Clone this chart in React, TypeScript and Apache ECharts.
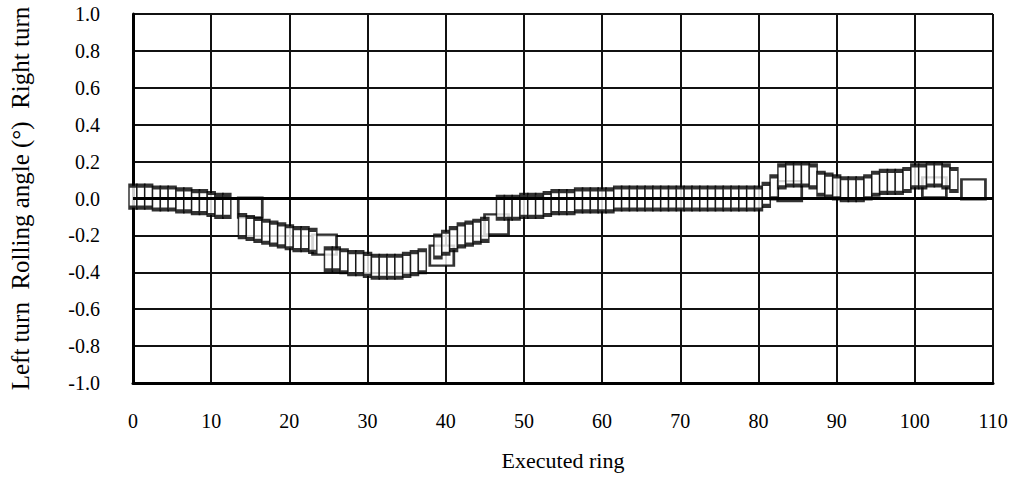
import React, { useEffect, useRef } from "react";
import * as echarts from "echarts";

const rings: number[] = [
  0, 1, 2, 3, 4, 5, 6, 7, 8, 9, 10, 11, 12,
  14, 15, 16, 17, 18, 19, 20, 21, 22, 23,
  25, 26, 27, 28, 29, 30, 31, 32, 33, 34, 35, 36, 37,
  39, 40, 41, 42, 43, 44, 45,
  47, 48, 49, 50, 51, 52, 53, 54, 55, 56, 57, 58, 59, 60, 61,
  62, 63, 64, 65, 66, 67, 68, 69, 70, 71, 72, 73, 74, 75, 76, 77, 78, 79, 80,
  81, 82, 83, 84, 85, 86, 87, 88, 89, 90, 91, 92, 93, 94, 95, 96, 97, 98, 99,
  100, 101, 102, 103, 104, 105,
];
const rollingAngle: number[] = [
  0.01, 0.01, 0.01, 0.0, 0.0, 0.0, -0.01, -0.01, -0.02, -0.02, -0.03, -0.04, -0.04,
  -0.15, -0.16, -0.17, -0.18, -0.19, -0.2, -0.21, -0.22, -0.22, -0.23,
  -0.33, -0.33, -0.34, -0.35, -0.35, -0.36, -0.37, -0.37, -0.37, -0.37, -0.36, -0.35, -0.34,
  -0.26, -0.24, -0.22, -0.2, -0.19, -0.18, -0.17,
  -0.05, -0.05, -0.05, -0.04, -0.04, -0.04, -0.03, -0.02, -0.02, -0.02, -0.01, -0.01, -0.01, -0.01, -0.01,
  0.0, 0.0, 0.0, 0.0, 0.0, 0.0, 0.0, 0.0, 0.0, 0.0, 0.0, 0.0, 0.0, 0.0, 0.0, 0.0, 0.0, 0.0, 0.0,
  0.02, 0.06, 0.12, 0.13, 0.13, 0.13, 0.12, 0.08, 0.07, 0.06, 0.05, 0.05, 0.05, 0.06, 0.08, 0.09, 0.09, 0.09, 0.1,
  0.12, 0.12, 0.13, 0.13, 0.12, 0.1,
];
// overlapping step readings (drawn as wider open boxes)
const stepRings: number[] = [15, 24.5, 39.5, 46.5, 84, 102.5, 107.5];
const stepAngle: number[] = [-0.05, -0.25, -0.31, -0.14, 0.04, 0.06, 0.05];

const xTicks: number[] = [0, 10, 20, 30, 40, 50, 60, 70, 80, 90, 100, 110];
const yTicks: number[] = [-1.0, -0.8, -0.6, -0.4, -0.2, 0.0, 0.2, 0.4, 0.6, 0.8, 1.0];

const FONT = "'Liberation Serif', 'Times New Roman', serif";

export default function App() {
  const ref = useRef<HTMLDivElement>(null);
  useEffect(() => {
    if (!ref.current) return;
    const chart = echarts.init(ref.current, undefined, { renderer: "svg" });
    const main = rings.map((r, i) => [r, rollingAngle[i]]);
    const steps = stepRings.map((r, i) => [r, stepAngle[i]]);
    chart.setOption({
      animation: false,
      backgroundColor: "#ffffff",
      grid: { left: 133, right: 20, top: 14, bottom: 94, containLabel: false },
      xAxis: {
        type: "value",
        min: xTicks[0],
        max: xTicks[xTicks.length - 1],
        interval: 10,
        name: "Executed ring",
        nameLocation: "middle",
        nameGap: 66,
        nameTextStyle: { fontFamily: FONT, fontSize: 22, color: "#000" },
        axisLine: { show: true, onZero: false, lineStyle: { color: "#000", width: 3 } },
        axisTick: { show: false },
        axisLabel: {
          margin: 28,
          fontFamily: FONT,
          fontSize: 20,
          color: "#000",
          formatter: (v: number) => String(Math.round(v)),
        },
        splitLine: { show: true, lineStyle: { color: "#111", width: 2 } },
      },
      yAxis: {
        type: "value",
        min: yTicks[0],
        max: yTicks[yTicks.length - 1],
        interval: 0.2,
        name: "Left turn  Rolling angle (°)  Right turn",
        nameLocation: "middle",
        nameRotate: 90,
        nameGap: 100,
        nameTextStyle: { fontFamily: FONT, fontSize: 25, color: "#000" },
        axisLine: { show: true, onZero: false, lineStyle: { color: "#000", width: 3 } },
        axisTick: { show: false },
        axisLabel: {
          margin: 33,
          fontFamily: FONT,
          fontSize: 20,
          color: "#000",
          formatter: (v: number) => (Math.abs(v) < 1e-9 ? "0.0" : v.toFixed(1)),
        },
        splitLine: { show: true, lineStyle: { color: "#111", width: 2 } },
      },
      series: [
        {
          type: "scatter",
          z: 1,
          data: steps,
          symbol: "rect",
          symbolSize: [24, 20],
          itemStyle: { color: "#ffffff", borderColor: "#000", borderWidth: 2.5 },
          markLine: {
            silent: true,
            symbol: "none",
            label: { show: false },
            lineStyle: { color: "#000", width: 3, type: "solid" },
            data: [{ yAxis: 0 }],
          },
        },
        {
          type: "scatter",
          z: 3,
          data: main,
          symbol: "rect",
          symbolSize: [8, 22],
          itemStyle: { color: "#ffffff", borderColor: "#000", borderWidth: 2.5 },
        },
      ],
    });
    return () => chart.dispose();
  }, []);
  return (
    <div
      ref={ref}
      style={{ position: "fixed", left: 0, top: 0, width: 1013, height: 477, background: "#fff" }}
    />
  );
}
